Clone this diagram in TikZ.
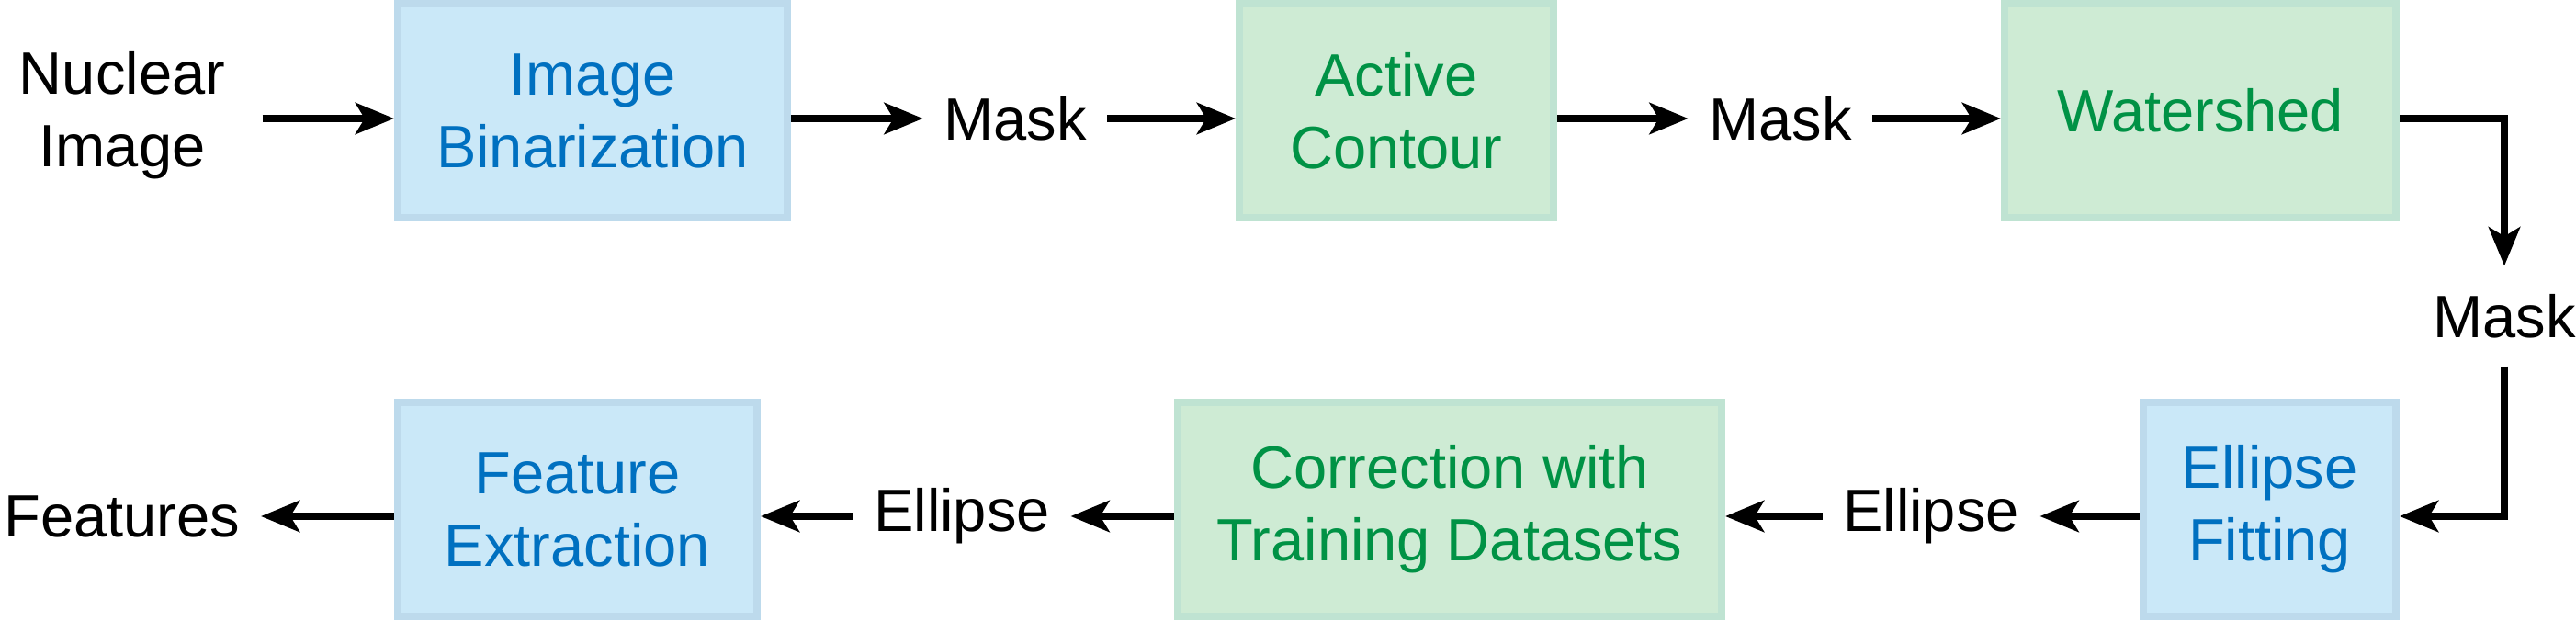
\documentclass[tikz,border=0pt]{standalone}
\usepackage{fontspec}
\setmainfont{Liberation Sans}
\usepackage{tikz}
\usetikzlibrary{arrows.meta}
\definecolor{bfill}{HTML}{CAE8F8}
\definecolor{bline}{HTML}{BDDAEC}
\definecolor{btext}{HTML}{0070C0}
\definecolor{gfill}{HTML}{CEEBD4}
\definecolor{gline}{HTML}{BFE3D2}
\definecolor{gtext}{HTML}{009245}
\tikzstyle{bluestep}=[rectangle,fill=bfill,draw=bline,line width=0.08cm,text=btext,align=center,minimum height=2.33cm,font=\fontsize{18.5}{22.5}\selectfont]
\tikzstyle{greenstep}=[rectangle,fill=gfill,draw=gline,line width=0.08cm,text=gtext,align=center,minimum height=2.33cm,font=\fontsize{18.5}{22.5}\selectfont]
\tikzstyle{data}=[align=center,inner xsep=0.22cm,inner ysep=0.3cm,font=\fontsize{18.5}{22.5}\selectfont]
\tikzstyle{flow}=[-{Stealth[length=0.42cm,width=0.34cm,inset=0.1cm]},line width=0.085cm]
\pgfdeclarelayer{edgelayer}
\pgfdeclarelayer{nodelayer}
\pgfsetlayers{edgelayer,nodelayer,main}

\begin{document}
\begin{tikzpicture}
	\useasboundingbox (0, 0) rectangle (28.04, 6.75);
	\begin{pgfonlayer}{nodelayer}
		\node [style=data] (nuclear) at (1.33, 5.50) {Nuclear\\Image};
		\node [style=bluestep, minimum width=4.24cm] (binar) at (6.45, 5.545) {Image\\Binarization};
		\node [style=data] (mask1) at (11.05, 5.46) {Mask};
		\node [style=greenstep, minimum width=3.42cm] (contour) at (15.20, 5.545) {Active\\Contour};
		\node [style=data] (mask2) at (19.38, 5.46) {Mask};
		\node [style=greenstep, minimum width=4.26cm] (water) at (23.95, 5.545) {Watershed};

		\node [style=data] (mask3) at (27.26, 3.31) {Mask};

		\node [style=bluestep, minimum width=2.75cm] (fitting) at (24.705, 1.205) {Ellipse\\Fitting};
		\node [style=data] (ellipse1) at (21.02, 1.13) {Ellipse};
		\node [style=greenstep, minimum width=5.92cm] (correct) at (15.78, 1.205) {Correction with\\Training Datasets};
		\node [style=data] (ellipse2) at (10.47, 1.13) {Ellipse};
		\node [style=bluestep, minimum width=3.91cm] (extract) at (6.285, 1.205) {Feature\\Extraction};
		\node [style=data] (features) at (1.33, 1.13) {Features};
	\end{pgfonlayer}
	\begin{pgfonlayer}{edgelayer}
		\draw [style=flow, shorten <=0.18cm] (nuclear.east |- mask1) to (binar.west |- mask1);
		\draw [style=flow] (binar.east |- mask1) to (mask1);
		\draw [style=flow] (mask1) to (contour.west |- mask1);
		\draw [style=flow] (contour.east |- mask2) to (mask2);
		\draw [style=flow] (mask2) to (water.west |- mask2);
		\draw [style=flow] (water.east |- mask2) -| (mask3.north);
		\draw [style=flow] (mask3.south) |- (fitting.east |- ellipse1);
		\draw [style=flow] (fitting.west |- ellipse1) to (ellipse1);
		\draw [style=flow] (ellipse1) to (correct.east |- ellipse1);
		\draw [style=flow] (correct.west |- ellipse2) to (ellipse2);
		\draw [style=flow] (ellipse2) to (extract.east |- ellipse2);
		\draw [style=flow] (extract.west |- features) to (features);
	\end{pgfonlayer}
\end{tikzpicture}
\end{document}
